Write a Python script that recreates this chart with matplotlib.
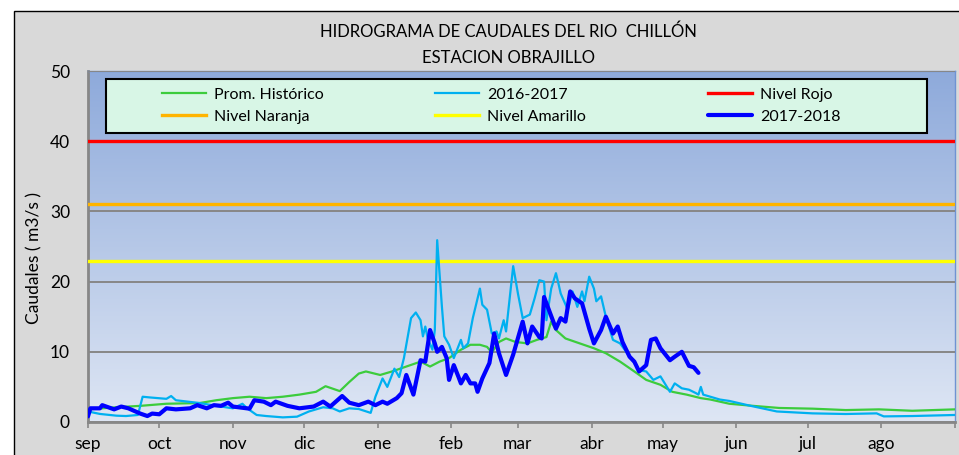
import matplotlib
matplotlib.use("Agg")
import matplotlib.pyplot as plt
import numpy as np
from matplotlib.patches import Rectangle
from matplotlib.colors import LinearSegmentedColormap

plt.rcParams['font.family'] = ['Lato', 'DejaVu Sans']

# dias contados desde el 1 de setiembre
mes_dias = [0, 30, 61, 91, 122, 153, 181, 212, 242, 273, 303, 334, 365]
mes_nombres = ['sep', 'oct', 'nov', 'dic', 'ene', 'feb', 'mar', 'abr',
               'may', 'jun', 'jul', 'ago', '']

prom_dias = [0, 12, 22, 33, 47, 54, 61, 68, 75, 82, 89, 96, 100, 106, 110,
             114, 117, 123, 128, 134, 140, 144, 148, 152, 157, 161, 165, 168,
             170, 173, 176, 180, 185, 189, 193, 195, 197, 201, 207, 213, 218,
             224, 230, 235, 241, 246, 252, 258, 262, 270, 280, 291, 305, 319,
             333, 347, 365]
prom_q = [1.8, 2.1, 2.3, 2.6, 2.7, 3.1, 3.4, 3.6, 3.4, 3.6, 3.9, 4.3, 5.1, 4.4,
          5.7, 6.9, 7.2, 6.7, 7.2, 7.9, 8.6, 7.9, 8.6, 9.1, 10.3, 11.0, 11.0,
          10.7, 9.9, 11.4, 11.9, 11.4, 11.2, 11.7, 12.1, 14.3, 13.1, 11.9,
          11.2, 10.5, 9.8, 8.6, 7.2, 6.0, 5.3, 4.3, 3.9, 3.4, 3.2, 2.6, 2.3,
          2.0, 1.9, 1.7, 1.8, 1.6, 1.8]

q1617_dias = [0, 5, 12, 16, 21, 23, 26, 33, 35, 37, 47, 54, 61, 65, 67, 71, 75,
              82, 88, 93, 99, 103, 106, 110, 114, 119, 121, 124, 126, 129, 131,
              133, 136, 138, 140, 141, 142, 143, 145, 146, 147, 149, 150, 152,
              154, 157, 158, 160, 162, 165, 166, 168, 170, 172, 173, 175, 176,
              179, 181, 183, 186, 188, 190, 192, 193, 195, 197, 198, 199, 202,
              204, 206, 208, 209, 211, 213, 214, 216, 218, 221, 224, 227, 230,
              232, 235, 238, 241, 245, 247, 250, 253, 256, 257, 258, 259, 262,
              266, 270, 279, 290, 305, 319, 332, 335, 347, 365]
q1617 = [1.5, 1.15, 0.9, 0.85, 1.0, 3.6, 3.5, 3.3, 3.7, 3.1, 2.7, 2.3, 1.95,
         2.6, 1.95, 1.0, 0.85, 0.66, 0.76, 1.5, 2.1, 1.95, 1.5, 1.95, 1.85,
         1.3, 3.6, 6.2, 5.0, 7.6, 6.4, 9.1, 14.8, 15.6, 14.5, 12.2, 13.6,
         11.9, 10.3, 13.1, 25.9, 16.4, 12.2, 11.0, 9.1, 11.7, 10.5, 11.2,
         14.8, 19.0, 16.7, 16.0, 12.6, 12.9, 11.9, 14.5, 12.9, 22.2, 18.3,
         14.8, 15.3, 17.6, 20.2, 20.0, 14.5, 19.0, 21.2, 19.8, 18.3, 16.0,
         18.6, 16.4, 18.6, 17.2, 20.7, 19.0, 17.2, 17.9, 15.0, 11.7, 11.2,
         9.8, 8.4, 7.4, 7.2, 6.0, 6.5, 4.3, 5.5, 4.8, 4.6, 4.1, 3.9, 5.0,
         3.9, 3.6, 3.2, 3.0, 2.3, 1.5, 1.23, 1.14, 1.23, 0.8, 0.85, 1.0]

q1718_dias = [0, 1, 5, 6, 11, 14, 17, 22, 25, 27, 30, 33, 37, 43, 46, 50, 53,
              56, 59, 61, 68, 70, 74, 77, 79, 84, 89, 95, 99, 102, 107, 110,
              114, 118, 121, 124, 126, 130, 132, 134, 137, 140, 142, 144, 146,
              147, 149, 151, 152, 154, 156, 157, 159, 161, 163, 164, 166, 169,
              171, 173, 176, 179, 183, 185, 187, 190, 191, 192, 194, 197, 199,
              201, 203, 205, 208, 211, 213, 216, 218, 221, 223, 225, 228, 230,
              232, 235, 237, 239, 241, 245, 247, 250, 253, 255, 257]
q1718 = [0.8, 1.95, 1.95, 2.4, 1.8, 2.2, 1.95, 1.2, 0.85, 1.2, 1.1, 1.95, 1.8,
         1.95, 2.4, 1.95, 2.4, 2.3, 2.75, 2.2, 1.9, 3.1, 2.9, 2.4, 2.9, 2.3,
         1.95, 2.2, 2.9, 2.2, 3.7, 2.75, 2.4, 2.9, 2.4, 2.9, 2.6, 3.4, 4.1,
         6.7, 3.9, 8.8, 8.6, 13.1, 11.2, 10.0, 10.7, 9.1, 6.0, 8.1, 6.4, 5.5,
         6.7, 5.5, 5.5, 4.3, 6.2, 8.4, 12.6, 9.8, 6.7, 9.6, 14.3, 11.2, 13.6,
         12.1, 11.9, 17.8, 16.0, 13.3, 14.8, 14.3, 18.6, 17.6, 16.9, 13.3,
         11.2, 13.1, 15.0, 12.6, 13.6, 11.4, 9.3, 8.6, 7.2, 8.1, 11.7, 11.9,
         10.5, 8.8, 9.3, 10.0, 8.0, 7.8, 7.0]

nivel_rojo = 40
nivel_naranja = 31
nivel_amarillo = 23

# figura
fig = plt.figure(figsize=(9.59, 4.55), dpi=100)
fig.patches.append(Rectangle((14/959, -0.1), 1.0, 1.1 - 11/455,
                             transform=fig.transFigure, facecolor='#d9d9d9',
                             edgecolor='black', linewidth=1.0, zorder=-10))
ax = fig.add_axes([88/959, 33/455, 867/959, 351/455])
ax.set_xlim(0, 365)
ax.set_ylim(0, 50)

# fondo degradado
cmap = LinearSegmentedColormap.from_list('fondo', ['#dee6f4', '#8eaadb'])
grad = np.linspace(0, 1, 256).reshape(-1, 1)
ax.imshow(grad, extent=[0, 365, 0, 50], origin='lower', aspect='auto',
          cmap=cmap, zorder=0)

ax.set_yticks([0, 10, 20, 30, 40, 50])
ax.yaxis.grid(True, color='#878787', linewidth=1.4, zorder=1)
ax.set_axisbelow(False)

l_rojo = ax.axhline(nivel_rojo, color='#ff0000', lw=2.4, zorder=3, label='Nivel Rojo')
l_nar = ax.axhline(nivel_naranja, color='#ffb400', lw=2.4, zorder=3, label='Nivel Naranja')
l_ama = ax.axhline(nivel_amarillo, color='#ffff00', lw=2.4, zorder=3, label='Nivel Amarillo')

l_prom, = ax.plot(prom_dias, prom_q, color='#3ccc3c', lw=1.6, zorder=4,
                  solid_joinstyle='round', label='Prom. Histórico')
l_1617, = ax.plot(q1617_dias, q1617, color='#00b0f0', lw=1.6, zorder=5,
                  solid_joinstyle='round', label='2016-2017')
l_1718, = ax.plot(q1718_dias, q1718, color='#0000ff', lw=3.0, zorder=6,
                  solid_joinstyle='round', solid_capstyle='round', label='2017-2018')

# ejes
ax.set_xticks(mes_dias)
ax.set_xticklabels(mes_nombres)
ax.tick_params(axis='x', length=4, width=1.2, color='#878787', pad=6, labelsize=12.5)
ax.tick_params(axis='y', length=0, pad=13, labelsize=12.5)
for s in ['left', 'bottom']:
    ax.spines[s].set_color('#878787')
    ax.spines[s].set_linewidth(2.0)
for s in ['top', 'right']:
    ax.spines[s].set_color('#6f93d3')
    ax.spines[s].set_linewidth(1.0)

fig.text(34/959, 1 - 258/455, 'Caudales ( m3/s )', rotation=90,
         ha='center', va='center', fontsize=12.5)
fig.text(508/959, 1 - 32/455, 'HIDROGRAMA DE CAUDALES DEL RIO  CHILLÓN',
         ha='center', va='center', fontsize=12)
fig.text(509/959, 1 - 58/455, 'ESTACION OBRAJILLO',
         ha='center', va='center', fontsize=12)

# leyenda
fig.patches.append(Rectangle((106/959, 1 - 133/455), 821/959, 54/455,
                             transform=fig.transFigure, facecolor='#d8f6e6',
                             edgecolor='black', linewidth=1.5, zorder=7))
cols = [([l_prom, l_nar], 162), ([l_1617, l_ama], 435), ([l_rojo, l_1718], 708)]
for handles, x0 in cols:
    leg = fig.legend(handles=handles, loc='center left',
                     bbox_to_anchor=(x0/959, 1 - 105.5/455), frameon=False,
                     fontsize=11.5, borderpad=0, borderaxespad=0,
                     handlelength=2.75, handletextpad=0.5, labelspacing=0.5)
    leg.set_zorder(8)

fig.savefig('out.png', dpi=100)
